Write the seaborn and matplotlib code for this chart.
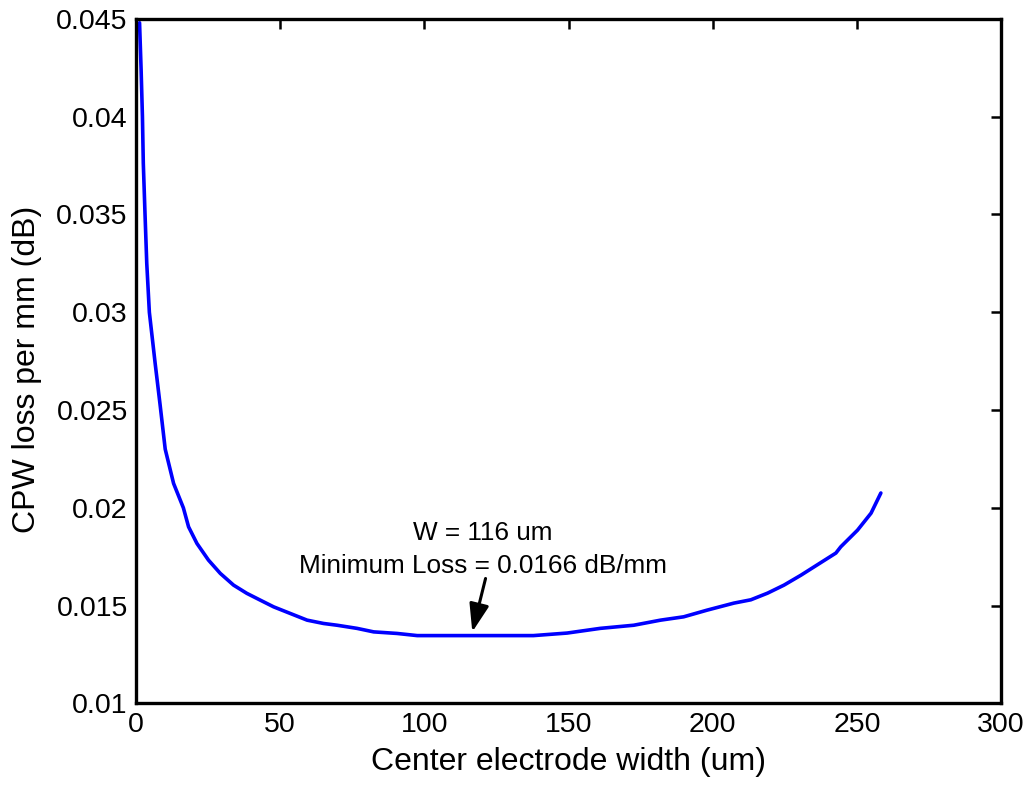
import matplotlib
matplotlib.use("Agg")
import matplotlib.pyplot as plt
import seaborn as sns
import pandas as pd

# Data
width_um = [1.2, 1.74, 2.2, 2.5, 3.1, 3.7, 4.6, 6.6, 8.3, 10.1,
            13.0, 16.4, 18.2, 21.1, 25.1, 29.2, 33.8, 38.4, 43.1, 47.7,
            53.5, 59.3, 65.0, 69.7, 76.6, 82.4, 90.5, 97.5, 137.8, 149.5,
            161.0, 172.6, 181.9, 189.9, 198.0, 207.3, 213.2, 219.0, 224.7, 230.6,
            242.7, 244.4, 250.2, 254.9, 258.3]
loss_db_mm = [0.0448, 0.0424, 0.0400, 0.03762, 0.0350, 0.0325, 0.0300, 0.0274, 0.0253, 0.0230,
              0.02125, 0.0200, 0.01903, 0.01818, 0.01733, 0.01665, 0.01605, 0.01563, 0.01528, 0.01494,
              0.0146, 0.01426, 0.01409, 0.0140, 0.01384, 0.01366, 0.01358, 0.01347, 0.01347, 0.0136,
              0.01384, 0.0140, 0.01426, 0.01443, 0.01477, 0.01513, 0.0153, 0.01564, 0.01605, 0.01656,
              0.01769, 0.01801, 0.01886, 0.01973, 0.02076]

x_ticks = [0, 50, 100, 150, 200, 250, 300]
y_ticks = [0.01, 0.015, 0.02, 0.025, 0.03, 0.035, 0.04, 0.045]
y_tick_labels = ["0.01", "0.015", "0.02", "0.025", "0.03", "0.035", "0.04", "0.045"]

annot_text = "W = 116 um\nMinimum Loss = 0.0166 dB/mm"
annot_text_xy = (120.2, 0.01669)
arrow_head = (116.6, 0.01366)
arrow_tail = (121.2, 0.01639)

sns.set_style("white")
plt.rcParams["font.family"] = ["Liberation Sans", "DejaVu Sans"]
plt.rcParams["text.color"] = "black"
plt.rcParams["axes.labelcolor"] = "black"

fig = plt.figure(figsize=(10.31, 7.86), dpi=100)
ax = fig.add_axes([0.132, 0.105, 0.839, 0.871])

df = pd.DataFrame({"w": width_um, "loss": loss_db_mm})
sns.lineplot(data=df, x="w", y="loss", color="#0000ff", linewidth=2.6, ax=ax,
             sort=False)

ax.set_xlim(0, 300)
ax.set_ylim(0.01, 0.045)
ax.set_xticks(x_ticks)
ax.set_xticklabels([str(t) for t in x_ticks])
ax.set_yticks(y_ticks)
ax.set_yticklabels(y_tick_labels)

for s in ax.spines.values():
    s.set_visible(True)
    s.set_linewidth(2.4)
    s.set_color("black")

ax.tick_params(axis="both", direction="in", length=7, width=1.8, labelsize=20.5,
               top=True, right=True, colors="black", labelcolor="black", pad=6)

ax.set_xlabel("Center electrode width (um)", fontsize=23)
ax.set_ylabel("CPW loss per mm (dB)", fontsize=23)
ax.xaxis.set_label_coords(0.5, -0.0639)
ax.yaxis.set_label_coords(-0.109, 0.4885)

ax.text(annot_text_xy[0], annot_text_xy[1], annot_text, ha="center",
        va="baseline", fontsize=18.8, linespacing=1.45, color="black")
ax.annotate("", xy=arrow_head, xytext=arrow_tail,
            arrowprops=dict(arrowstyle="-|>,head_length=17,head_width=6",
                            color="black", lw=2.2, mutation_scale=1,
                            shrinkA=0, shrinkB=0))

fig.savefig("out.png", dpi=100)
